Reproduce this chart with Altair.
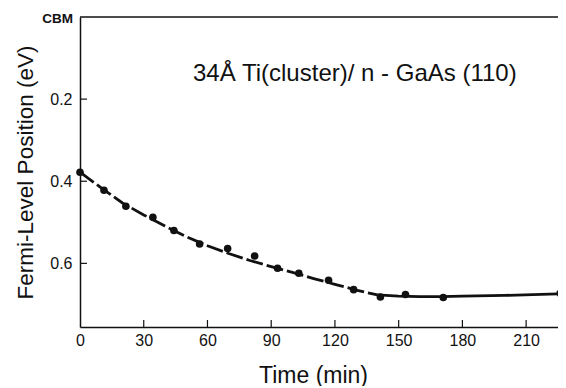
import altair as alt
import pandas as pd

# measured points
time_pts = [0, 11.3, 21.6, 34.3, 44.2, 56.3, 69.5, 82.2, 93.0, 103.0, 117.0, 128.8, 141.4, 153.2, 171.0, 226.0]
ef_pts = [0.378, 0.422, 0.461, 0.488, 0.520, 0.553, 0.564, 0.582, 0.612, 0.624, 0.641, 0.664, 0.682, 0.676, 0.683, 0.673]

# guide curve (dashed part, then solid part)
curve_t_dash = [0, 10, 20, 30, 40, 50, 60, 70, 80, 90, 100, 110, 120, 130, 140]
curve_e_dash = [0.378, 0.416, 0.453, 0.482, 0.509, 0.535, 0.557, 0.576, 0.593, 0.608, 0.622, 0.637, 0.651, 0.665, 0.677]
curve_t_solid = [140, 150, 160, 170, 180, 200, 226]
curve_e_solid = [0.677, 0.680, 0.681, 0.681, 0.680, 0.678, 0.674]

x_ticks = [0, 30, 60, 90, 120, 150, 180, 210]
y_ticks = [0.2, 0.4, 0.6]
inner_x_ticks = [30, 60, 90, 120, 150, 180, 210]
inner_y_ticks = [0.2, 0.4, 0.6]
cbm_label = ["CBM"]

W, H = 478, 310
FONT = "Liberation Sans"
INK = "#111111"

xs = alt.Scale(domain=[0, 225], nice=False, zero=False)
ys = alt.Scale(domain=[0, 0.755], reverse=True, nice=False, zero=False)

pts = pd.DataFrame({"t": time_pts, "e": ef_pts})
dash = pd.DataFrame({"t": curve_t_dash, "e": curve_e_dash})
solid = pd.DataFrame({"t": curve_t_solid, "e": curve_e_solid})

def x_axis():
    return alt.Axis(
        values=x_ticks, ticks=False, grid=False, labelPadding=5, labelFontSize=16,
        labelFlush=False, labelFont=FONT, labelColor=INK, domainColor=INK, domainWidth=1.5,
        title="Time (min)", titleFont=FONT, titleFontSize=23, titleFontWeight="normal",
        titleColor=INK, titleX=233, titleY=55, titleAlign="center", titleBaseline="alphabetic",
    )

def y_axis():
    return alt.Axis(
        values=y_ticks, ticks=False, grid=False, labelPadding=8, format=".1f",
        labelFlush=False, labelFontSize=16, labelFont=FONT, labelColor=INK,
        domainColor=INK, domainWidth=1.5,
        title="Fermi-Level Position (eV)", titleFont=FONT, titleFontSize=22.5,
        titleFontWeight="normal", titleColor=INK, titleX=-55, titleY=155,
        titleAngle=270, titleAlign="center", titleBaseline="middle",
    )

def X():
    return alt.X("t:Q", scale=xs, axis=x_axis())

def Y():
    return alt.Y("e:Q", scale=ys, axis=y_axis())

points = alt.Chart(pts).mark_point(filled=True, color=INK, size=58, opacity=1).encode(x=X(), y=Y())
line_dash = alt.Chart(dash).mark_line(color=INK, strokeWidth=2.8, strokeDash=[17, 4]).encode(x=X(), y=Y())
line_solid = alt.Chart(solid).mark_line(color=INK, strokeWidth=2.8).encode(x=X(), y=Y())
xt = alt.Chart(pd.DataFrame({"t": inner_x_ticks})).mark_rule(color=INK, strokeWidth=1.2).encode(
    x=X(), y=alt.value(H), y2=alt.value(H - 7),
)
yt = alt.Chart(pd.DataFrame({"e": inner_y_ticks})).mark_rule(color=INK, strokeWidth=1.2).encode(
    y=Y(), x=alt.value(0), x2=alt.value(7),
)
top = alt.Chart(pd.DataFrame({"a": [0]})).mark_rule(color=INK, strokeWidth=1.5).encode(
    x=alt.value(0), x2=alt.value(W + 5), y=alt.value(0),
)
cbm = alt.Chart(pd.DataFrame({"s": cbm_label, "e": [0.0]})).mark_text(
    font=FONT, fontSize=13.5, fontWeight="bold", color=INK, align="right", baseline="middle", dy=2,
).encode(text="s:N", y=Y(), x=alt.value(-7))
label = alt.Chart(pd.DataFrame({"s": ["34Å Ti(cluster)/ n - GaAs (110)"]})).mark_text(
    font=FONT, fontSize=24, color=INK, align="left", baseline="middle",
).encode(text="s:N", x=alt.value(113), y=alt.value(57))

chart = alt.layer(points, line_dash, line_solid, xt, yt, top, cbm, label).properties(
    width=W, height=H, background="white",
    autosize=alt.AutoSizeParams(type="none"),
    padding={"left": 72, "top": 9, "right": 0, "bottom": 59},
).configure_view(stroke=None)

chart.save("out.html", embed_options={"renderer": "svg", "actions": False})
